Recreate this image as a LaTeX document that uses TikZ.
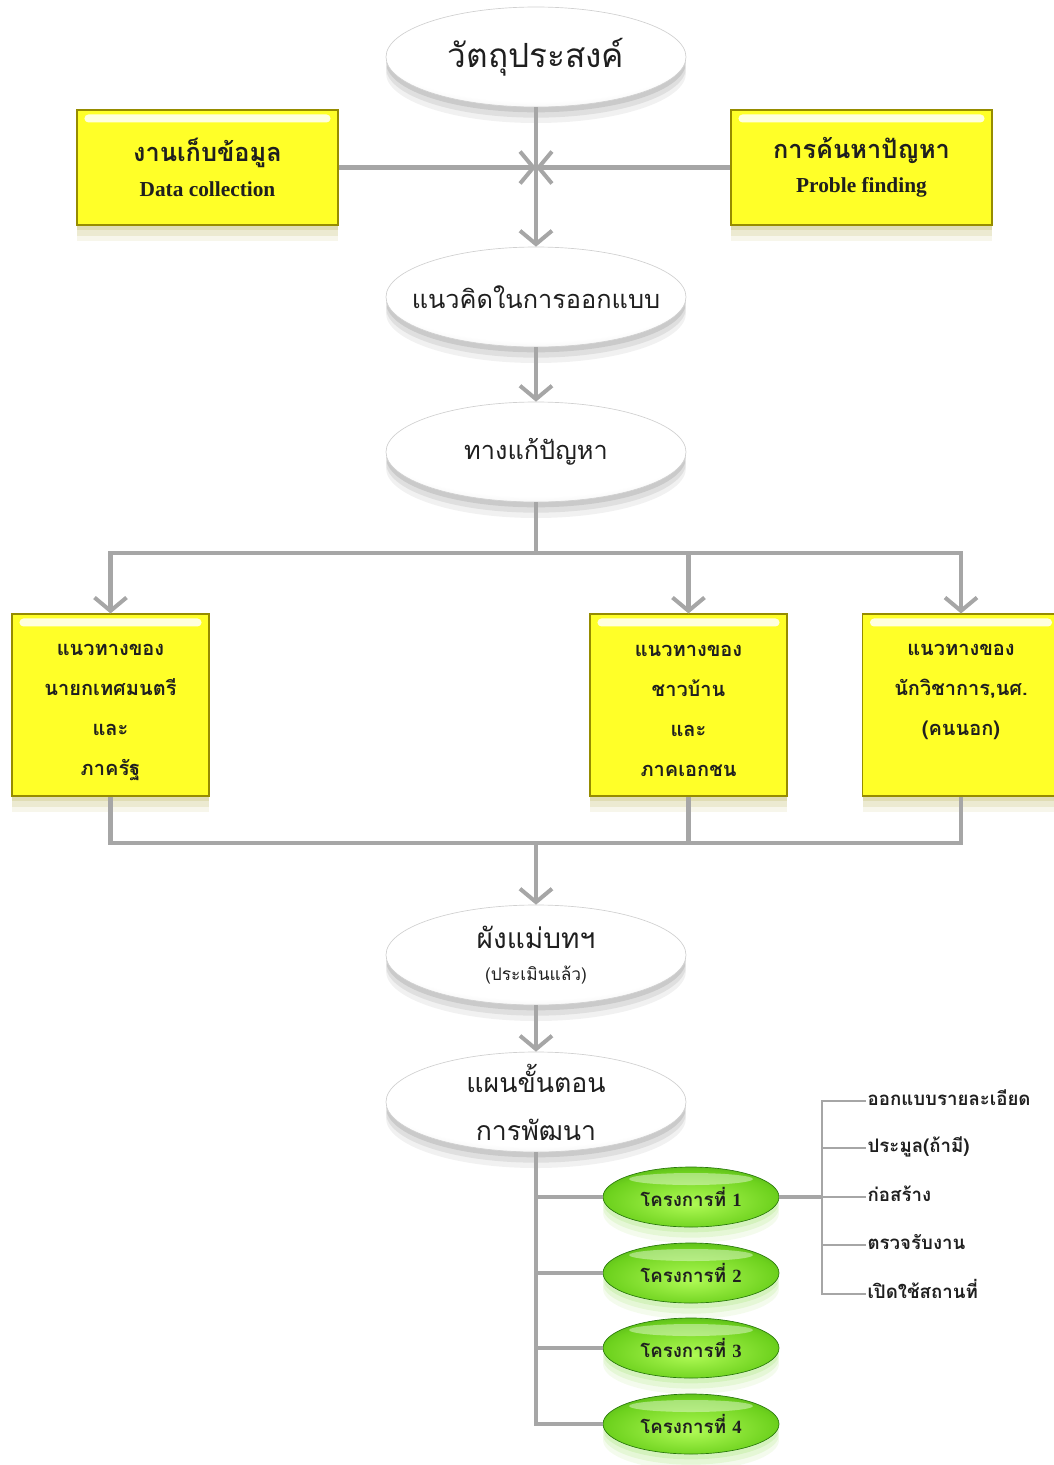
\documentclass[tikz,border=0pt]{standalone}
\usepackage{fontspec}
\setmainfont{Liberation Serif}
\newfontfamily\thaifont[Script=Thai]{Loma}
\usepackage{tikz}
\usetikzlibrary{arrows.meta,shapes.geometric,shadows,calc}
\usepackage{xcolor}

\definecolor{linegray}{RGB}{166,166,166}
\definecolor{txtgray}{RGB}{31,31,31}
\definecolor{ovalrim}{RGB}{208,208,208}
\definecolor{boxcore}{RGB}{255,255,40}
\definecolor{boxouter}{RGB}{222,212,0}
\definecolor{boxedge}{RGB}{150,140,0}
\definecolor{pgreenlight}{RGB}{175,250,85}
\definecolor{pgreen}{RGB}{110,210,30}
\definecolor{pgreendark}{RGB}{40,120,10}

\pgfdeclareradialshading{ovalshade}{\pgfpoint{0bp}{8bp}}{color(0bp)=(white);color(26bp)=(white);color(42bp)=(ovalrim);color(50bp)=(ovalrim!85!black)}
\pgfdeclareradialshading{boxshade}{\pgfpoint{0bp}{0bp}}{color(0bp)=(boxcore);color(38bp)=(boxcore);color(50bp)=(boxouter);color(71bp)=(boxedge)}
\pgfdeclareradialshading{greenshade}{\pgfpoint{0bp}{-6bp}}{color(0bp)=(pgreenlight);color(24bp)=(pgreen);color(44bp)=(pgreendark);color(50bp)=(pgreendark)}

\begin{document}
\begin{tikzpicture}[x=0.75pt,y=0.75pt,yscale=-1,xscale=1,
  soft shadow/.style={drop shadow={shadow xshift=0pt,shadow yshift=-4pt,opacity=0.14,fill=#1},drop shadow={shadow xshift=0pt,shadow yshift=-8pt,opacity=0.11,fill=#1},drop shadow={shadow xshift=0pt,shadow yshift=-12pt,opacity=0.08,fill=#1}},
  oval/.style={ellipse,minimum width=225pt,minimum height=75pt,inner xsep=-20pt,inner ysep=-8pt,draw=ovalrim,line width=0.5pt,shade,shading=ovalshade,soft shadow=black!70,text=txtgray,align=center},
  ybox/.style={rectangle,minimum width=195.75pt,minimum height=86.25pt,inner sep=0pt,draw=boxedge,line width=0.8pt,shade,shading=boxshade,soft shadow=boxedge,text=txtgray,align=center},
  tbox/.style={ybox,minimum width=147.75pt,minimum height=136.5pt,font=\thaifont\bfseries\fontsize{15}{30}\selectfont},
  proj/.style={ellipse,minimum width=132pt,minimum height=45pt,inner sep=0pt,draw=pgreendark,line width=0.5pt,shade,shading=greenshade,soft shadow=pgreen,text=txtgray,font=\thaifont\bfseries\fontsize{14}{16}\selectfont},
  step label/.style={anchor=west,inner sep=1pt,text height=9pt,text depth=2pt,text=txtgray,font=\thaifont\bfseries\fontsize{14}{16}\selectfont},
  conn/.style={draw=linegray,line width=3.5pt},
  bconn/.style={draw=linegray,line width=2.2pt},
  arr/.style={-{Straight Barb[length=10pt,width=24pt,line width=3pt]}}]
\useasboundingbox (0,0) rectangle (1054,1465);

%Shapes: ovals
\node [oval,font=\thaifont\fontsize{25}{30}\selectfont] (obj) at (536,57) {วัตถุประสงค์};
\node [oval,font=\thaifont\fontsize{19}{24}\selectfont] (idea) at (536,297) {แนวคิดในการออกแบบ};
\node [oval,font=\thaifont\fontsize{19}{24}\selectfont] (sol) at (536,452) {ทางแก้ปัญหา};
\node [oval,font=\thaifont\fontsize{21}{26}\selectfont] (mp) at (536,955) {ผังแม่บทฯ\\[-2pt]{\fontsize{13}{16}\selectfont (ประเมินแล้ว)}};
\node [oval,font=\thaifont\fontsize{20}{36}\selectfont] (plan) at (536,1102) {แผนขั้นตอน\\การพัฒนา};

%Shapes: top boxes
\node [ybox] (dc) at (207.5,167.5) {{\thaifont\bfseries\fontsize{19}{24}\selectfont งานเก็บข้อมูล}\\[9pt]{\bfseries\fontsize{16}{20}\selectfont Data collection}};
\node [ybox] (pf) at (861.5,167.5) {{\thaifont\bfseries\fontsize{19}{24}\selectfont การค้นหาปัญหา}\\[9pt]{\bfseries\fontsize{16}{20}\selectfont Proble finding}};

%Shapes: guideline boxes
\node [tbox] (ga) at (110.5,705) {\rule{0pt}{19.5pt}แนวทางของ\\นายกเทศมนตรี\\และ\\ภาครัฐ};
\node [tbox] (gb) at (688.5,705) {\rule{0pt}{17pt}แนวทางของ\\ชาวบ้าน\\และ\\ภาคเอกชน};
\node [tbox] (gc) at (961,705) {\rule{0pt}{24pt}แนวทางของ\\นักวิชาการ,นศ.\\(คนนอก)\\\strut};

%Shapes: projects
\node [proj] (p1) at (691,1197) {โครงการที่ {\rmfamily 1}};
\node [proj] (p2) at (691,1273) {โครงการที่ {\rmfamily 2}};
\node [proj] (p3) at (691,1348) {โครงการที่ {\rmfamily 3}};
\node [proj] (p4) at (691,1424) {โครงการที่ {\rmfamily 4}};

%Highlights
\fill [white,opacity=0.85,rounded corners=3pt] ($(dc.north west)+(8,5)$) rectangle ($(dc.north east)+(-8,13)$);
\fill [white,opacity=0.85,rounded corners=3pt] ($(pf.north west)+(8,5)$) rectangle ($(pf.north east)+(-8,13)$);
\fill [white,opacity=0.85,rounded corners=3pt] ($(ga.north west)+(8,5)$) rectangle ($(ga.north east)+(-8,13)$);
\fill [white,opacity=0.85,rounded corners=3pt] ($(gb.north west)+(8,5)$) rectangle ($(gb.north east)+(-8,13)$);
\fill [white,opacity=0.85,rounded corners=3pt] ($(gc.north west)+(8,5)$) rectangle ($(gc.north east)+(-8,13)$);
\fill [white,opacity=0.4] ($(p1.center)+(0,-18)$) ellipse [x radius=62,y radius=6];
\fill [white,opacity=0.4] ($(p2.center)+(0,-18)$) ellipse [x radius=62,y radius=6];
\fill [white,opacity=0.4] ($(p3.center)+(0,-18)$) ellipse [x radius=62,y radius=6];
\fill [white,opacity=0.4] ($(p4.center)+(0,-18)$) ellipse [x radius=62,y radius=6];

% Text Node
\node [step label] (s1) at (866,1101) {ออกแบบรายละเอียด};
\node [step label] (s2) at (866,1148) {ประมูล(ถ้ามี)};
\node [step label] (s3) at (866,1197) {ก่อสร้าง};
\node [step label] (s4) at (866,1245) {ตรวจรับงาน};
\node [step label] (s5) at (866,1294) {เปิดใช้สถานที่};

%Junctions
\coordinate (meet) at (536,167.5);
\coordinate (split) at (536,553);
\coordinate (join) at (536,843);
\coordinate (brk) at (822,1197);

%Straight Lines
\draw [conn,arr] (obj) -- (idea);
\draw [conn,arr] (dc.east) -- (meet);
\draw [conn,arr] (pf.west) -- (meet);
\draw [conn,arr] (idea) -- (sol);
\draw [conn] (sol) -- (split);
\draw [conn,arr] (split) -| (ga);
\draw [conn,arr] (split) -| (gb);
\draw [conn,arr] (split) -| (gc);
\draw [conn] (ga) |- (join);
\draw [conn] (gb) |- (join);
\draw [conn] (gc) |- (join);
\draw [conn,arr] (join) -- (mp);
\draw [conn,arr] (mp) -- (plan);
\draw [conn] (plan) |- (p1);
\draw [conn] (plan) |- (p2);
\draw [conn] (plan) |- (p3);
\draw [conn] (plan) |- (p4);
\draw [conn] (p1) -- (brk);
\draw [bconn] (s1.west) -| (brk);
\draw [bconn] (s2.west) -| (brk);
\draw [bconn] (s3.west) -| (brk);
\draw [bconn] (s4.west) -| (brk);
\draw [bconn] (s5.west) -| (brk);

\end{tikzpicture}
\end{document}
